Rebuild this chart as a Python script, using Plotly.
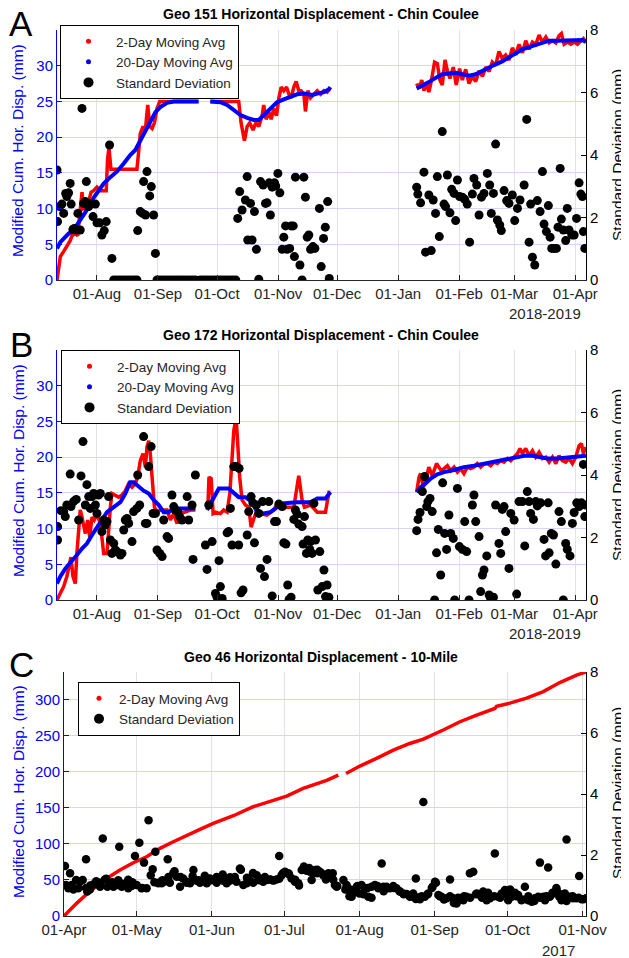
import plotly.graph_objects as go
from datetime import datetime, timedelta

FONT = "Liberation Sans, Arial, sans-serif"
TXT = "#262626"
BASE_AB = datetime(2018, 8, 1)   # day 0 for panels A and B
BASE_C = datetime(2017, 4, 1)    # day 0 for panel C

# ---------------- Panel A : Geo 151 (day offset, value) ; None = data gap
A_red = [(-20.3,0),(-19.5,1.5),(-18.6,3.3),(-16.9,4),(-15.3,4.7),(-13.6,5.5),(-12.7,6.2),(-11,6.5),(-9.8,6.2),
         (-8.5,10.5),(-7.6,12.3),(-6.8,10),(-5.4,10.2),(-4.2,11),(-3,12.3),(-1.7,12.5),(0,13),(1.7,12.5),(4.7,12.5),
         (5.4,17),(6.1,18.5),(7.1,15.5),(9.3,15.5),(11.9,15.5),(15.3,15.5),(20.3,15.5),(21.2,18),(22,20.5),(23.4,21.5),
         (24.6,21),(25.8,24.5),(26.8,21.5),(28,21.2),(29.2,22),(30.5,24),(31.9,25),(35.6,25),(42.4,25),(50.8,25),
         None,
         (57.6,25),(62.7,25),(72,25),(73.2,22),(74.9,19.5),(76.3,21.5),(77.6,22),(79.3,21),(80.7,22),(82.2,21.5),
         (83.9,23),(84.7,24.5),(85.9,22.5),(87.3,23.5),(88.5,22.5),(89.8,24),(91.2,23),(92.4,25.5),(93.6,27),
         (94.9,26.5),(96.3,27),(97.5,26),(98.6,25.5),(100,27),(101.2,27.8),(102.5,26.5),(103.7,26.5),(105.1,26),
         (105.9,23.6),(107.1,26.5),(108.5,25.5),(110.2,26),(111.9,26.5),(113.6,26),(115.3,26.5),(116.9,26.3),(118.3,26.8),
         None,
         (162.4,27.5),(163.6,26.8),(165,28),(166.1,26.5),(167.5,27.5),(168.6,26.3),(169.8,27.8),(171.5,30.5),(172.9,30.3),
         (174.2,28),(175.4,27.3),(176.8,30.8),(178,29.3),(179.3,28.2),(181,29.8),(182.5,27.3),(184.2,29.6),(185.6,28),
         (187.3,29.5),(189,27.5),(190.7,28.5),(192.4,27.8),(194.1,29.3),(195.8,28.5),(197.5,29.8),(199.2,29.2),
         (200.8,30.5),(202.5,30),(204.2,32),(205.9,31),(207.6,31.5),(209.3,30.8),(211,32.5),(212.7,31.5),(214.4,33),
         (216.1,31.8),(217.8,33.5),(219.5,32.3),(221.2,33.3),(222.9,33),(224.6,34.3),(226.3,33.3),(228,34),(229.7,33.2),
         (231.4,33.5),(233.1,33.2),(234.7,34.2),(235.9,34.5),(237.3,33),(239,33.3),(240.7,33),(242.4,33.3),(244.1,33),
         (245.8,33.5),(247.1,33.8),(248.4,33.3)]

A_blue = [(-20.3,4.4),(-18.6,5.3),(-16.9,5.8),(-14.4,6.5),(-11.9,7),(-9.3,8),(-6.8,9.1),(-4.2,10.2),(-1.7,11.5),
          (0.8,12.5),(3.4,13.5),(6.8,14.4),(10.2,15.2),(13.6,16.3),(16.9,17.5),(19.5,18.2),(22,19.5),(24.6,21),
          (27.1,22.3),(29.7,23.5),(32.2,24.2),(35.6,24.8),(39,25),(45.8,25),(51.7,25),
          None,
          (57.6,25),(62.7,24.9),(66.1,24.5),(69.5,23.8),(72.9,23.1),(76.3,22.7),(79.7,22.4),(82.2,22.4),(84.7,23.1),
          (88.1,24),(91.5,24.9),(94.9,25.3),(98.3,25.7),(101.7,26),(105.1,26.1),(109.3,25.9),(111.9,26.1),(115.3,26.3),
          (117.8,26.7),(118.6,27.0),
          None,
          (162.4,26.8),(165.3,27.2),(168.6,27.7),(172,28.3),(175.4,28.8),(178.8,28.9),(182.2,29),(185.6,28.8),(189,28.6),
          (192.4,28.8),(195.8,29.3),(199.2,29.8),(202.5,30.2),(205.9,30.6),(209.3,31.2),(212.7,31.8),(216.1,32.3),
          (219.5,32.6),(222.9,32.9),(226.3,33.3),(229.7,33.5),(233.9,33.5),(239,33.5),(244.1,33.5),(246.6,33.6),(248.4,33.3)]

A_sd = [(-20.3,3.52),(-20,1.87),(-19,2.35),(-17.8,2.43),(-16.9,2.13),(-15.9,2.77),(-15.3,2.67),(-14.4,2.79),(-13.6,3.09),
        (-13.1,2.43),(-12.2,1.62),(-11.5,1.65),(-10.5,1.6),(-9.7,2.13),(-8.5,1.6),(-7.6,5.49),(-6.8,2.45),(-5.9,2.51),
        (-5.4,3.15),(-4.2,2.35),(-3.1,2.45),(-2,2.03),(-0.8,2.43),(0,1.83),(1.4,1.83),(2.5,1.44),(3.7,1.58),(4.7,1.87),
        (5.4,6.03),(6.4,4.32),(7.6,0.69),
        (8.5,0),(10,0),(11.5,0),(13,0),(14.5,0),(16,0),(17.5,0),(19,0),(20.3,0),
        (20.7,1.58),(22,2.19),(23.2,2.13),(23.7,3.15),(24.7,2.08),(25.4,3.47),(26.8,2.69),(27.6,2.99),(28.8,2.08),(29.7,0.85),
        (30.5,0),(32,0),(33.5,0),(35,0),(36.5,0),(38,0),(39.5,0),(41,0),(42.5,0),(44,0),(45.5,0),(47,0),(48.5,0),(50,0),
        (52.5,0),(54,0),(55.5,0),(57,0),(58.5,0),(60,0),(61.5,0),(63,0),(64.5,0),(66,0),(67.5,0),(69,0),(70.5,0),
        (71.5,1.97),(72.5,2.83),(73.7,2.24),(75.4,2.56),(76.3,3.31),(76.6,1.28),(78,2.45),(78.8,1.28),(80,2.19),(81,0.98),
        (82.2,0.02),(83.1,3.15),(84.4,3.04),(85.6,2.45),(86.4,2.47),(87.5,3.11),(88.1,2.08),(89,2.97),(90.2,3.11),
        (90.8,3.01),(91.9,3.41),(92.9,2.79),(94.1,0.98),(94.9,1.37),(95.8,1.73),(96.6,0.98),(97.9,1.01),(98.6,1.73),
        (99.7,1.73),(100.3,0.75),(100.8,3.29),(103.1,0.48),(104.2,0),(105.1,3.29),(105.9,2.65),(106.8,1.37),(107.6,1.44),
        (108.5,0.98),(109.7,1.07),(110.7,1.01),(113,2.29),(113.9,0.43),(115.1,1.33),(116,1.69),(117.2,2.51),(118,0.05),
        (162.4,2.97),(163,2.75),(164.4,2.47),(166.1,3.45),(166.9,0.89),(168.6,2.72),(169.8,0.94),(170.8,2.56),(172,2.13),
        (172.9,3.31),(173.9,1.39),(175.4,4.75),(176.3,2.43),(177.1,2.35),(178,3.36),(179.3,2.15),(180.2,2.9),(181.4,2.77),
        (182.2,1.9),(183.1,3.2),(184.2,2.67),(185.6,2.65),(186.8,2.58),(188.1,2.43),(189.3,1.21),(190.7,2.75),(191.5,3.25),
        (192.9,3.04),(194.1,2.08),(195.3,2.65),(196.6,2.77),(198.3,3.41),(199.5,3.04),(200.3,2.13),(201.4,2.77),(202.5,4.35),
        (203.4,1.92),(204.6,1.76),(205.4,1.58),(206.8,2.86),(208.1,2.54),(209.3,2.45),(211,2.72),(212.2,1.9),(213.6,2.29),
        (214.9,2.56),(217,3.04),(218.3,5.14),(219.5,1.21),(220.3,2.43),(221.2,0.73),(222.4,0.48),(223.7,2.54),(225.1,2.19),
        (226.3,3.47),(227.1,1.79),(228.3,1.55),(229.3,2.38),(230.2,1.37),(231,1.01),(232.2,1.01),(233.4,1.01),(234.2,1.69),
        (235.3,3.57),(235.9,1.95),(236.9,1.6),(238.1,1.26),(238.9,2.29),(239.8,1.6),(241.2,1.44),(242.4,1.44),(243.6,1.97),
        (244.9,3.11),(245.8,2.75),(246.6,2.67),(247.1,1.55),(247.8,1.01)]

# ---------------- Panel B : Geo 172
B_red = [(-20.3,0),(-18.6,0.9),(-16.9,1.9),(-15.3,3.3),(-14.1,4.7),(-13.2,6.0),(-12.2,3.3),(-11.0,2.3),(-10.2,6.5),
         (-9.3,10.2),(-8.5,12.6),(-7.6,11.6),(-5.9,9.3),(-4.7,11.2),(-3.7,8.8),(-2.5,11.6),(-1.4,11.2),(0,12.1),
         (1.7,10.7),(2.5,8.8),(3.4,6.5),(5.1,6.5),(5.9,10.2),(6.8,13.0),(7.6,14.9),(9.3,14.7),(11.0,14.4),(12.7,14.7),
         (14.4,15.3),(16.1,16.3),(17.8,15.8),(19.5,16.3),(20.7,17.2),(22.0,19.5),(23.4,20.5),(24.6,18.6),(25.4,21.4),
         (26.3,22.3),(27.1,20.5),(28.0,17.2),(29.2,13.0),(30.5,12.3),(32.2,12.6),(35.6,12.6),(37.3,11.2),(39.0,12.1),
         (40.7,10.7),(42.4,12.1),(44.1,12.3),(47.5,12.6),(50.0,12.6),
         None,
         (56.3,12.8),(56.9,17.2),(58.0,17.0),(59.0,12.1),(60.2,12.3),(62.7,12.1),(64.4,12.6),(66.1,12.3),(67.5,14.9),
         (68.6,19.5),(69.5,23.7),(70.7,25.6),(71.5,21.4),(72.5,17.2),(73.7,14.0),(75.4,13.3),(77.1,13.0),(78.3,10.2),
         (79.7,11.4),(81.4,12.6),(83.1,12.1),(86.4,11.9),(89.8,12.6),(91.5,13.5),(93.2,12.8),(96.6,13.0),(100.0,13.0),
         (101.4,15.3),(102.5,17.4),(104.2,14.0),(105.4,13.0),(108.5,13.3),(111.9,12.3),(116.1,12.3),(117.8,15.1),(118.6,15.1),
         None,
         (162.4,15.1),(163.6,17.2),(164.4,17.7),(165.8,15.8),(166.9,16.7),(168.6,18.6),(170.3,17.4),(171.5,18.4),
         (172.5,19.1),(173.7,18.6),(174.9,18.1),(176.3,18.4),(178.0,18.8),(179.7,18.1),(181.4,18.6),(183.1,17.9),
         (184.7,18.4),(186.4,17.7),(188.1,18.6),(189.8,18.4),(191.5,18.6),(193.2,19.1),(194.9,18.6),(196.6,19.0),
         (198.3,19.1),(200.0,18.8),(201.7,19.3),(203.4,19.1),(205.1,19.5),(206.8,19.3),(208.5,19.8),(210.2,19.5),
         (211.9,20.0),(213.6,20.5),(214.9,21.2),(216.1,20.5),(217.8,21.2),(219.5,20.2),(221.2,20.9),(222.9,20.0),
         (224.6,20.7),(226.3,19.8),(228.0,20.0),(229.7,19.3),(231.4,20.0),(233.1,19.1),(234.7,20.2),(236.4,19.5),
         (238.1,19.3),(239.8,19.8),(241.5,19.1),(243.2,20.0),(244.9,21.6),(246.1,21.9),(247.1,20.5),(248.4,21.4)]

B_blue = [(-20.3,2.3),(-18.6,3.3),(-16.1,4.4),(-13.6,5.3),(-10.2,6.3),(-7.6,7.2),(-5.1,7.9),(-2.5,9.1),(0,10.2),
          (2.5,11.4),(5.1,12.3),(8.5,13.0),(11.9,13.7),(14.4,14.9),(16.9,16.5),(18.6,16.5),(21.2,15.8),(23.7,15.3),
          (26.3,14.9),(28.8,14.0),(31.4,13.3),(33.9,12.3),(36.4,12.3),(39.0,12.8),(50.0,12.8),
          None,
          (55.9,12.6),(59.3,14.2),(61.9,15.6),(66.9,15.6),(69.5,14.9),(72.0,14.4),(75.4,14.4),(78.8,13.7),(81.4,12.3),
          (84.7,12.1),(88.1,12.3),(90.7,12.8),(94.1,13.5),(98.3,13.6),(101.7,13.7),(108.5,13.7),(111.9,14.2),(116.1,14.2),
          (118.6,15.1),
          None,
          (162.4,15.1),(164.4,15.8),(166.9,16.3),(169.5,17.0),(172.9,17.6),(176.3,17.9),(181.4,18.2),(186.4,18.6),
          (191.5,18.8),(196.6,19.1),(201.7,19.3),(206.8,19.6),(211.9,20.0),(217.0,20.2),(221.2,20.2),(225.4,20.0),
          (228.8,19.8),(233.9,19.8),(239.0,19.9),(244.1,20.0),(248.4,20.2)]

B_sd = [(-20.0,2.35),(-20.0,1.92),(-18.3,2.86),(-16.9,2.83),(-16.1,2.67),(-15.3,3.04),(-13.6,4.03),(-13.2,2.99),
        (-11.9,3.15),(-10.5,3.22),(-9.3,2.56),(-8.1,3.97),(-7.1,5.07),(-5.9,3.04),(-5.1,3.69),(-4.2,3.31),(-3.4,2.93),
        (-2.5,3.31),(-1.7,3.41),(-0.8,3.04),(0,2.77),(0.8,3.36),(1.7,3.41),(2.5,2.19),(3.4,2.56),(4.2,2.40),(5.1,2.51),
        (5.9,3.31),(6.8,1.92),(7.6,1.49),(8.5,1.81),(9.3,1.60),(10.2,1.55),(11.9,1.44),(12.7,1.49),(13.6,2.24),(14.4,2.56),
        (15.3,2.61),(16.1,2.45),(17.8,1.87),(18.6,2.83),(20.3,2.93),(20.7,4.0),(21.7,3.04),(22.9,5.87),(23.7,5.23),
        (24.6,2.45),(25.4,2.45),(26.3,4.27),(27.5,4.91),(28.5,2.77),(29.7,2.77),(30.5,1.60),(31.9,1.49),(33.1,1.39),
        (33.9,2.56),(35.6,2.03),(36.4,1.97),(38.1,3.36),(39.0,2.99),(39.8,2.88),(41.0,2.83),(42.0,2.67),(43.2,2.56),
        (45.8,3.31),(46.6,2.56),(48.3,3.04),(48.8,1.30),(50.0,4.0),(55.1,1.76),(55.9,0.98),(56.8,3.04),(57.3,6.24),
        (58.5,1.87),(60.2,0.21),(61.0,0.09),(62.0,1.26),(62.7,0.43),(63.6,0.05),(66.1,2.15),(66.9,2.19),(67.8,2.93),
        (68.6,1.76),(69.5,4.27),(70.8,4.27),(72.2,4.21),(72.0,1.76),(73.2,0.23),(74.2,0.32),(76.3,2.08),(77.1,2.83),
        (78.3,3.31),(79.2,3.11),(80.0,1.83),(81.0,3.04),(82.2,2.77),(83.1,1.01),(84.1,3.15),(85.1,0.75),(86.4,1.30),
        (87.3,3.15),(89.0,0.13),(90.2,2.51),(91.2,2.51),(92.4,3.07),(94.1,2.99),(94.9,1.83),(96.0,1.79),(96.9,0.48),
        (97.6,0.02),(98.6,0.09),(100.0,2.58),(100.8,2.88),(101.7,2.75),(102.5,2.43),(104.2,2.35),(104.7,1.79),(105.4,2.67),
        (106.4,1.49),(107.1,1.92),(108.1,1.62),(108.5,1.87),(109.3,1.49),(110.2,3.09),(111.0,1.92),(112.2,0.32),
        (113.2,1.55),(114.4,0.43),(115.3,0.96),(116.1,0.11),(116.9,0.48),(117.8,0.09),
        (162.4,2.22),(163.1,2.58),(164.1,2.80),(165.3,3.47),(166.4,3.95),(167.5,2.99),(168.1,3.15),(169.2,3.25),
        (170.3,2.83),(171.5,0.0),(172.5,1.51),(173.4,2.26),(174.6,0.80),(175.6,3.75),(176.6,2.13),(177.6,1.62),
        (178.8,2.72),(179.7,2.13),(181.0,1.97),(181.7,0.0),(183.1,3.57),(184.1,1.71),(185.6,1.62),(186.8,2.51),
        (187.8,1.55),(189.0,0.0),(190.7,3.04),(191.5,3.36),(192.4,2.51),(194.1,2.03),(194.9,0.27),(195.8,0.80),
        (196.6,0.96),(198.0,1.41),(199.2,0.16),(200.0,0.05),(201.4,0.09),(202.5,3.04),(204.2,1.81),(205.1,1.49),
        (205.9,2.90),(206.8,2.99),(207.6,2.19),(209.3,1.01),(210.2,2.77),(211.9,2.56),(213.2,0.19),(214.4,3.15),
        (216.1,3.15),(217.3,1.73),(218.6,3.47),(219.5,3.15),(220.3,2.77),(221.7,2.58),(222.9,3.15),(223.7,3.01),
        (225.4,3.11),(227.1,1.94),(227.9,1.41),(229.2,3.11),(229.7,1.51),(230.8,2.13),(231.9,2.08),(233.1,1.15),
        (234.7,2.83),(235.9,2.51),(236.9,0.0),(238.1,1.81),(238.9,1.62),(240.3,1.41),(241.5,2.45),(242.4,2.80),
        (243.7,3.11),(244.9,2.99),(246.1,3.11),(247.1,4.34),(247.8,2.67),(248.3,3.04)]

# ---------------- Panel C : Geo 46 (day offset from 2017-04-01)
C_red = [(0,0),(2.5,9.2),(5.2,17.5),(9.4,30.5),(13.5,41.5),(17.6,52),(23.1,63.7),(28.6,73.8),(34.1,82.1),(39.6,93.7),
         (45.1,102.9),(50.6,112),(56.1,120),(61.6,128.3),(69.9,138.9),(78.1,151.4),(85,158.3),(91.9,166),(98.7,176.7),
         (105.6,184),(108.4,188),(113.2,195.2),
         None,
         (116.4,197.5),(122.1,207.7),(129,218.3),(135.9,229.8),(142.7,239),(148.3,245),(156.5,257.6),(163.4,269.1),
         (170.3,278.3),(177.8,287.5),(178.5,290.5),(184,294.9),(190.9,301.8),(197.8,310.9),(204.6,323.4),(211.5,333.6),
         (215.4,338)]

C_sd = [(0.4,1.64),(0.8,1.02),(1.8,0.91),(2.5,1.40),(3.2,1.02),(3.9,0.87),(5.0,1.18),(5.9,0.91),(6.6,1.12),(7.7,1.18),
        (9.1,1.86),(9.6,0.80),(10.7,0.87),(11.8,1.02),(12.8,1.07),(13.8,1.09),(14.9,0.96),(16.0,2.54),(16.9,1.20),
        (17.9,0.96),(19.0,1.02),(20.4,0.96),(21.7,1.02),(22.8,2.27),(23.8,0.96),(25.2,1.02),(26.5,0.91),(27.9,0.98),
        (29.3,1.97),(30.0,1.02),(31.1,2.40),(32.0,0.91),(33.0,1.75),(34.1,0.91),(34.9,3.14),(35.8,1.34),(36.6,1.53),
        (37.7,2.11),(38.9,1.07),(40.3,1.07),(41.3,1.12),(42.8,1.86),(43.7,1.09),(45.1,1.40),(46.5,1.29),(47.9,0.96),
        (49.2,1.23),(50.6,1.12),(52.0,1.07),(53.4,1.51),(54.7,1.16),(56.1,1.09),(57.5,1.18),(58.9,1.07),(60.2,1.23),
        (61.6,1.18),(63.0,1.09),(64.4,1.20),(65.7,1.16),(67.1,1.07),(68.5,1.27),(69.9,1.18),(71.2,1.12),(72.6,1.56),
        (74.0,1.02),(75.4,1.07),(76.7,1.16),(78.1,1.09),(79.5,1.34),(80.6,1.23),(82.2,1.12),(83.6,1.18),(85.0,1.20),
        (86.4,1.16),(87.7,1.20),(88.8,1.97),(89.8,1.34),(91.2,1.45),(92.6,1.40),(93.9,1.23),(95.3,1.12),(96.7,1.07),
        (98.1,1.51),(99.0,1.62),(100.1,1.48),(101.5,1.45),(102.2,1.18),(103.6,1.51),(104.5,1.40),(105.6,1.45),
        (107.0,1.34),(108.1,1.20),(109.1,1.40),(110.0,1.34),(110.9,1.40),(111.8,1.02),(112.5,0.96),(115.3,1.18),
        (116.6,1.02),(117.3,0.91),(118.7,0.63),(119.4,0.85),(120.8,0.96),(121.9,0.74),(122.8,1.02),(124.2,0.91),
        (125.6,0.63),(126.9,0.96),(128.3,1.02),(129.7,0.91),(131.1,1.72),(131.8,0.96),(133.1,0.96),(134.5,0.91),
        (135.9,0.98),(137.2,0.91),(138.6,0.80),(140.0,0.74),(141.4,0.72),(142.8,0.63),(144.1,0.74),(145.2,1.23),
        (146.2,0.61),(146.9,0.55),(148.3,3.74),(148.9,0.63),(150.3,0.74),(152.1,0.96),(153.1,1.12),(154.5,0.69),
        (155.8,0.63),(157.9,0.58),(159.3,1.20),(160.6,0.58),(162.0,0.41),(163.4,0.58),(164.8,0.52),(166.1,0.63),
        (167.5,1.40),(168.9,1.45),(170.3,0.74),(171.6,0.69),(173.0,0.80),(174.4,0.52),(175.8,0.58),(177.8,2.05),
        (179.2,0.63),(180.6,0.74),(182.0,0.85),(183.3,0.52),(184.7,0.63),(186.1,0.76),(187.4,0.69),(188.8,0.52),
        (190.2,0.96),(191.6,0.52),(193.0,0.47),(194.3,0.58),(195.7,0.63),(196.4,1.75),(197.8,0.63),(198.5,0.52),
        (199.8,1.59),(200.5,0.63),(201.9,0.74),(203.3,0.85),(204.4,0.63),(205.3,0.52),(206.7,0.74),(207.4,2.51),
        (208.8,0.63),(210.1,0.58),(211.5,0.58),(212.6,1.31),(213.6,0.55),(214.5,0.55),(215.4,0.58),
        # further readings from the dense band
        (9.1,0.92),(10.8,1.0),(13.3,1.14),(14.9,1.09),(17.4,1.22),(19.9,1.11),(22.4,1.17),(24.1,1.06),(26.5,1.19),
        (28.2,1.11),(32.3,0.92),(37.3,1.11),(39.0,1.09),(40.6,1.17),(43.1,1.28),(45.6,1.47),(48.1,1.28),(50.6,1.09),
        (53.1,1.30),(55.6,1.17),(58.1,1.32),(60.6,1.17),(63.0,1.28),(65.5,1.36),(68.0,1.14),(70.5,1.28),(73.0,1.52),
        (75.5,1.25),(78.0,1.41),(80.5,1.17),(82.9,1.28),(85.4,1.19),(88.8,1.22),(90.4,1.41),(92.9,1.36),(95.4,1.19),
        (97.0,1.0),(99.5,1.52),(101.2,1.57),(102.9,1.41),(104.5,1.52),(106.2,1.41),(108.7,1.30),(111.1,1.19),
        (112.8,0.98),(116.1,0.87),(117.8,0.65),(119.4,0.76),(121.1,0.98),(123.6,0.71),(125.3,0.92),(126.9,0.60),
        (129.4,0.98),(131.9,0.81),(133.5,0.92),(136.0,0.92),(138.5,0.81),(140.2,0.71),(142.7,0.65),(145.2,0.56),
        (147.6,0.65),(150.1,0.71),(151.8,0.92),(153.5,1.09),(155.1,0.65),(156.8,0.54),(159.3,0.65),(160.9,0.43),
        (162.6,0.60),(165.1,0.65),(167.6,0.60),(170.0,0.71),(172.5,0.60),(175.0,0.76),(177.5,0.65),(180.0,0.60),
        (182.5,0.71),(184.1,0.87),(186.6,0.65),(189.1,0.54),(191.6,0.65),(194.1,0.49),(196.6,0.60),(199.1,0.65),
        (201.6,0.76),(203.2,0.92),(204.9,0.71),(207.4,0.49),(209.9,0.65),(212.4,0.60)]

LEFT_TICKS_AB = [0, 5, 10, 15, 20, 25, 30, 35]
LEFT_TICKS_C = [0, 50, 100, 150, 200, 250, 300]
RIGHT_TICKS = [0, 2, 4, 6, 8]
TITLES = ["Geo 151 Horizontal Displacement - Chin Coulee",
          "Geo 172 Horizontal Displacement - Chin Coulee",
          "Geo 46 Horizontal Displacement - 10-Mile"]
LEGEND_NAMES = ["2-Day Moving Avg", "20-Day Moving Avg", "Standard Deviation"]


def split(pairs, base):
    xs, ys = [], []
    for p in pairs:
        if p is None:
            xs.append(None)
            ys.append(None)
        else:
            xs.append(base + timedelta(days=p[0]))
            ys.append(p[1])
    return xs, ys


fig = go.Figure()

# the page places the figure 8 px in from the top-left corner (default body margin)
PAGE_W, PAGE_H, OFF = 629, 958, 8
W, H = PAGE_W - OFF, PAGE_H - OFF
def px(x):
    return (x - OFF) / W
def py(y):
    return 1 - (y - OFF) / H

panels = [
    dict(xa="x", ya="y", ya2="y2", red=A_red, blue=A_blue, sd=A_sd, base=BASE_AB, leg="legend"),
    dict(xa="x2", ya="y3", ya2="y4", red=B_red, blue=B_blue, sd=B_sd, base=BASE_AB, leg="legend2"),
    dict(xa="x3", ya="y5", ya2="y6", red=C_red, blue=None, sd=C_sd, base=BASE_C, leg="legend3"),
]

for p in panels:
    x, y = split(p["red"], p["base"])
    fig.add_trace(go.Scatter(x=x, y=y, mode="lines", line=dict(color="#ff0000", width=3.5),
                             xaxis=p["xa"], yaxis=p["ya"], showlegend=False, hoverinfo="skip"))
    if p["blue"] is not None:
        x, y = split(p["blue"], p["base"])
        fig.add_trace(go.Scatter(x=x, y=y, mode="lines", line=dict(color="#0000ff", width=4),
                                 xaxis=p["xa"], yaxis=p["ya"], showlegend=False, hoverinfo="skip"))
    x, y = split(p["sd"], p["base"])
    fig.add_trace(go.Scatter(x=x, y=y, mode="markers",
                             marker=dict(color="black", size=9 if p["blue"] is not None else 8.5, line=dict(width=0)),
                             xaxis=p["xa"], yaxis=p["ya2"], showlegend=False, hoverinfo="skip"))
    # legend entries
    fig.add_trace(go.Scatter(x=[None], y=[None], mode="markers", marker=dict(color="#ff0000", size=5),
                             name=LEGEND_NAMES[0], legend=p["leg"], xaxis=p["xa"], yaxis=p["ya"]))
    if p["blue"] is not None:
        fig.add_trace(go.Scatter(x=[None], y=[None], mode="markers", marker=dict(color="#0000ff", size=5),
                                 name=LEGEND_NAMES[1], legend=p["leg"], xaxis=p["xa"], yaxis=p["ya"]))
    fig.add_trace(go.Scatter(x=[None], y=[None], mode="markers", marker=dict(color="black", size=10),
                             name=LEGEND_NAMES[2], legend=p["leg"], xaxis=p["xa"], yaxis=p["ya2"]))

tickfont = dict(family=FONT, size=15, color=TXT)
xcommon = dict(type="date", dtick="M1", tickformat="%d-%b", ticks="inside", ticklen=5, tickcolor=TXT,
               showline=True, linecolor=TXT, linewidth=1, showgrid=True, gridcolor="#e2e2e2", gridwidth=1,
               zeroline=False, tickfont=tickfont, automargin=False)
ycommon = dict(ticks="inside", ticklen=5, tickcolor="#0000ff", showline=True, linecolor="#0000ff", linewidth=1,
               showgrid=True, gridcolor="#d4d4ff", gridwidth=1, zeroline=False, automargin=False,
               tickfont=dict(family=FONT, size=15, color="#0000ff"))
y2common = dict(side="right", ticks="inside", ticklen=5, tickcolor="black", showline=True, linecolor="black",
                linewidth=1, showgrid=False, zeroline=False, range=[0, 8], tickvals=RIGHT_TICKS, automargin=False,
                tickfont=dict(family=FONT, size=15, color="black"))

dom_x_ab = [px(57), px(586)]
dom_x_c = [px(64), px(586)]
rng_ab = ["2018-07-11 16:48", "2019-04-06 10:00"]
rng_c = ["2017-04-01 00:00", "2017-11-02 10:00"]

fig.update_layout(
    xaxis=dict(domain=dom_x_ab, anchor="y", range=rng_ab, tick0="2018-08-01", **xcommon),
    yaxis=dict(domain=[py(280), py(30)], anchor="x", range=[0, 35], tickvals=LEFT_TICKS_AB,
               ticktext=[str(v) if v < 35 else "" for v in LEFT_TICKS_AB], **ycommon),
    yaxis2=dict(overlaying="y", anchor="x", **y2common),
    xaxis2=dict(domain=dom_x_ab, anchor="y3", range=rng_ab, tick0="2018-08-01", **xcommon),
    yaxis3=dict(domain=[py(600), py(350)], anchor="x2", range=[0, 35], tickvals=LEFT_TICKS_AB,
                ticktext=[str(v) if v < 35 else "" for v in LEFT_TICKS_AB], **ycommon),
    yaxis4=dict(overlaying="y3", anchor="x2", **y2common),
    xaxis3=dict(domain=dom_x_c, anchor="y5", range=rng_c, tick0="2017-04-01", **xcommon),
    yaxis5=dict(domain=[py(916), py(672)], anchor="x3", range=[0, 338], tickvals=LEFT_TICKS_C, **ycommon),
    yaxis6=dict(overlaying="y5", anchor="x3", **y2common),
)

legcommon = dict(xanchor="left", yanchor="top", bgcolor="white", bordercolor="black", borderwidth=1,
                 font=dict(family=FONT, size=13.5, color=TXT), itemsizing="trace",
                 traceorder="normal", tracegroupgap=0)
fig.update_layout(
    legend=dict(x=px(60), y=py(25), itemwidth=45, **legcommon),
    legend2=dict(x=px(61), y=py(350), itemwidth=45, **legcommon),
    legend3=dict(x=px(78), y=py(682), itemwidth=30, **legcommon),
)

ann = []
title_y = [14, 335, 657]
letter_y = [24, 344, 664]
left_title_y = [151, 471, 792]
right_title_y = [155, 475, 793]
for i in range(3):
    ann.append(dict(text="<b>" + TITLES[i] + "</b>", x=px(321), y=py(title_y[i]), xref="paper", yref="paper",
                    showarrow=False, xanchor="center", yanchor="middle",
                    font=dict(family=FONT, size=14, color="black")))
    ann.append(dict(text="ABC"[i], x=px(21), y=py(letter_y[i]), xref="paper", yref="paper", showarrow=False,
                    xanchor="center", yanchor="middle", font=dict(family=FONT, size=35, color="black")))
    ann.append(dict(text="Modified Cum. Hor. Disp. (mm)", x=px(18), y=py(left_title_y[i]), xref="paper",
                    yref="paper", showarrow=False, textangle=-90, xanchor="center", yanchor="middle",
                    font=dict(family=FONT, size=15.5, color="#0000ff")))
    ann.append(dict(text="Standard Deviation (mm)", x=px(617), y=py(right_title_y[i]), xref="paper",
                    yref="paper", showarrow=False, textangle=-90, xanchor="center", yanchor="middle",
                    font=dict(family=FONT, size=15.5, color="black")))
ann.append(dict(text="2018-2019", x=px(545), y=py(313), xref="paper", yref="paper", showarrow=False,
                xanchor="center", yanchor="middle", font=dict(family=FONT, size=15, color=TXT)))
ann.append(dict(text="2018-2019", x=px(545), y=py(633), xref="paper", yref="paper", showarrow=False,
                xanchor="center", yanchor="middle", font=dict(family=FONT, size=15, color=TXT)))
ann.append(dict(text="2017", x=px(558), y=py(950), xref="paper", yref="paper", showarrow=False,
                xanchor="center", yanchor="middle", font=dict(family=FONT, size=15, color=TXT)))

fig.update_layout(annotations=ann, width=W, height=H, autosize=False,
                  margin=dict(l=0, r=0, t=0, b=0), paper_bgcolor="white", plot_bgcolor="white",
                  font=dict(family=FONT, color=TXT), hovermode=False)

fig.write_html("out.html")
